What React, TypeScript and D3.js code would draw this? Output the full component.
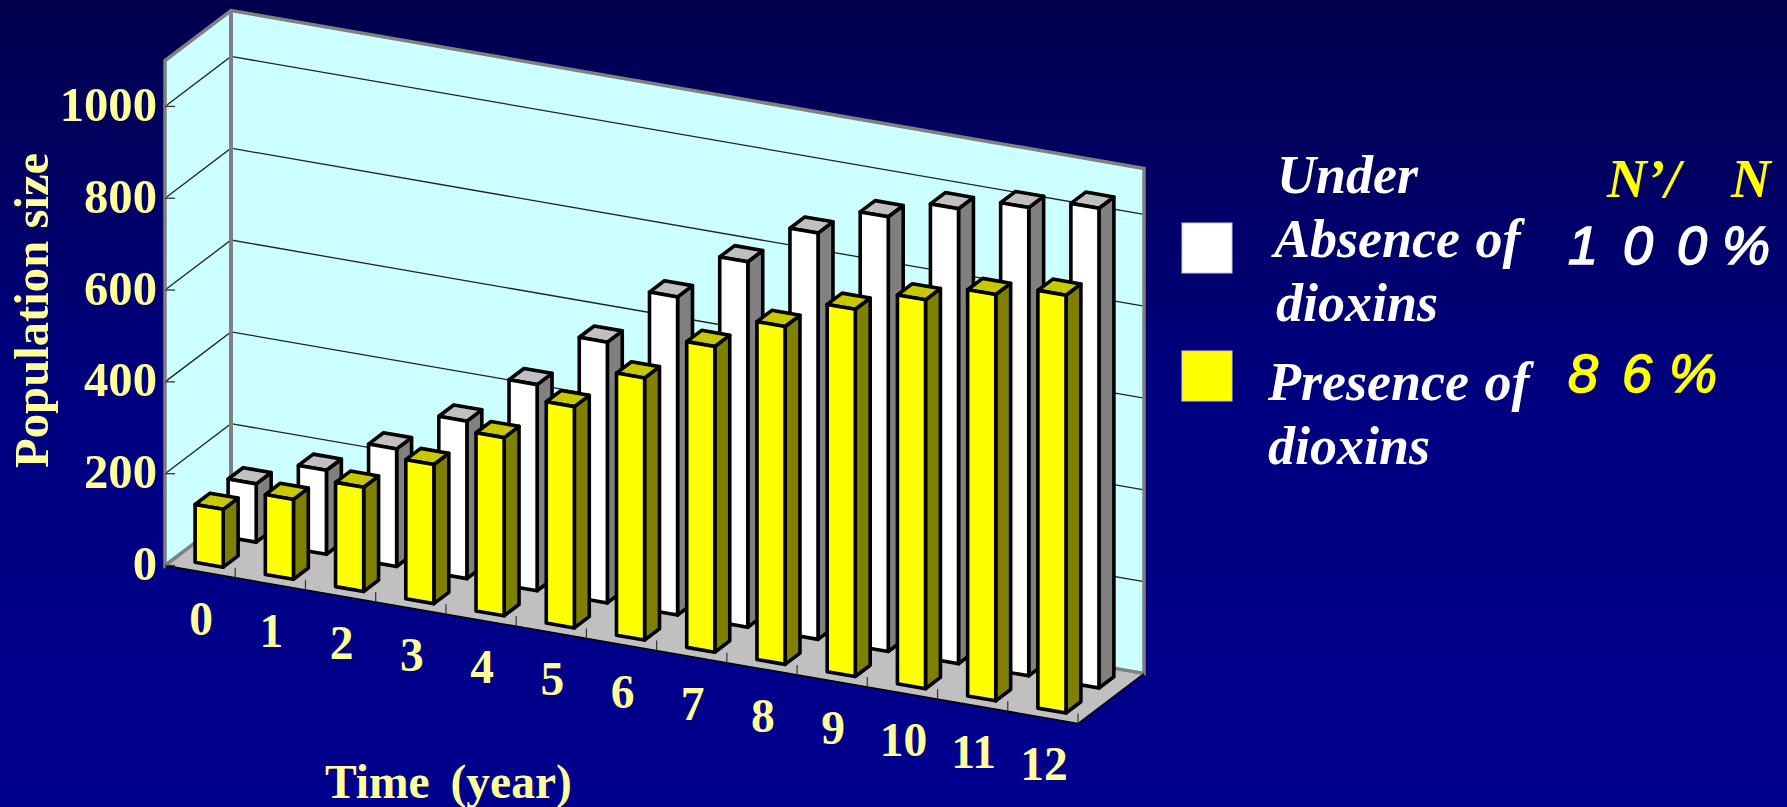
import React from "react";
import * as d3 from "d3";

const years = ["0", "1", "2", "3", "4", "5", "6", "7", "8", "9", "10", "11", "12"];
const absenceValues = [127, 183, 256, 343, 449, 568, 693, 796, 885, 947, 991, 1020, 1045];
const presenceValues = [126, 174, 227, 303, 388, 482, 571, 666, 736, 800, 847, 885, 910];
const valueTicks = [0, 200, 400, 600, 800, 1000];
const depthRows = ["presence", "absence"];

const WIDTH = 1787;
const HEIGHT = 807;
const SERIF = "'Liberation Serif', 'Times New Roman', serif";
const SANS = "'Liberation Sans', Arial, sans-serif";
const LABEL = "#ffff99";

// Oblique projection of the plot box: floor origin plus one vector per axis.
const origin = { x: 165, y: 565.5 };
const alongX = { x: 913, y: 158 };
const alongDepth = { x: 66, y: -50 };

const timeScale = d3.scaleBand<string>().domain(years).range([0, 1]).paddingInner(0.6).paddingOuter(0.3);
const depthScale = d3.scaleBand<string>().domain(depthRows).range([0, 1]).paddingInner(0.548).paddingOuter(0.274);
const valueScale = d3.scaleLinear().domain([0, 1100]).range([0, 505]);

type Pt = [number, number];
const project = (t: number, d: number, v: number): Pt => [
  origin.x + alongX.x * t + alongDepth.x * d,
  origin.y + alongX.y * t + alongDepth.y * d - valueScale(v),
];
const poly = d3.line<Pt>().curve(d3.curveLinearClosed);
const seg = d3.line<Pt>();

function Bar({ year, row, value, front, side, top }: { year: string; row: string; value: number; front: string; side: string; top: string }) {
  const t0 = timeScale(year)!;
  const t1 = t0 + timeScale.bandwidth();
  const d0 = depthScale(row)!;
  const d1 = d0 + depthScale.bandwidth();
  const common = { stroke: "#000", strokeWidth: 3.6, strokeLinejoin: "round" as const };
  return (
    <g>
      <path d={poly([project(t1, d0, 0), project(t1, d1, 0), project(t1, d1, value), project(t1, d0, value)])!} fill={side} {...common} />
      <path d={poly([project(t0, d0, value), project(t1, d0, value), project(t1, d1, value), project(t0, d1, value)])!} fill={top} {...common} />
      <path d={poly([project(t0, d0, 0), project(t1, d0, 0), project(t1, d0, value), project(t0, d0, value)])!} fill={front} {...common} />
    </g>
  );
}

export default function App() {
  const vMax = valueScale.domain()[1];
  const step = timeScale.step();
  const gridTicks = valueTicks.filter((v) => v > 0);
  const wallStroke = { stroke: "#808080", strokeWidth: 3.5, fill: "none", strokeLinejoin: "miter" as const };
  const legendText = { fontFamily: SERIF, fontSize: 54, fontWeight: 700, fontStyle: "italic", fill: "#fff", wordSpacing: 2 };
  const percent = { fontFamily: SANS, fontSize: 54, fontStyle: "italic", strokeWidth: 1.6 };

  return (
    <svg width={WIDTH} height={HEIGHT} viewBox={`0 0 ${WIDTH} ${HEIGHT}`} style={{ position: "fixed", left: 0, top: 0, display: "block" }}>
      <defs>
        <linearGradient id="backdrop" x1="0" y1="0" x2="0" y2="1">
          <stop offset="0" stopColor="#00004d" />
          <stop offset="0.5" stopColor="#000080" />
          <stop offset="1" stopColor="#00008f" />
        </linearGradient>
      </defs>
      <rect width={WIDTH} height={HEIGHT} fill="url(#backdrop)" />

      {/* Floor, side wall and back wall */}
      <path d={poly([project(0, 0, 0), project(1, 0, 0), project(1, 1, 0), project(0, 1, 0)])!} fill="#c0c0c0" />
      <path d={poly([project(0, 0, 0), project(0, 1, 0), project(0, 1, vMax), project(0, 0, vMax)])!} fill="#ccffff" />
      <path d={poly([project(0, 1, 0), project(1, 1, 0), project(1, 1, vMax), project(0, 1, vMax)])!} fill="#ccffff" />

      {gridTicks.map((v) => (
        <path key={v} d={seg([project(0, 0, v), project(0, 1, v), project(1, 1, v)])!} fill="none" stroke="#222" strokeWidth={1.3} />
      ))}

      <path d={poly([project(0, 0, 0), project(0, 1, 0), project(1, 1, 0), project(1, 1, vMax), project(0, 1, vMax), project(0, 0, vMax)])!} {...wallStroke} />
      <path d={seg([project(0, 1, 0), project(0, 1, vMax)])!} {...wallStroke} strokeWidth={4} />

      {/* Floor front edges and tick marks */}
      <path d={seg([project(0, 0, 0), project(1, 0, 0), project(1, 1, 0)])!} fill="none" stroke="#000" strokeWidth={1.5} />
      {years.map((y) => {
        const [x, yy] = project(timeScale(y)! + timeScale.bandwidth() + 0.3 * step, 0, 0);
        return <line key={y} x1={x} x2={x} y1={yy} y2={yy - 10} stroke="#333" strokeWidth={1.2} />;
      })}
      {valueTicks.map((v) => {
        const [x, y] = project(0, 0, v);
        return <line key={v} x1={x} x2={x + 10} y1={y} y2={y} stroke="#333" strokeWidth={1.3} />;
      })}

      {/* Rear row of bars, then the front row */}
      {years.map((y, i) => (
        <Bar key={y} year={y} row="absence" value={absenceValues[i]} front="#ffffff" side="#808080" top="#c0c0c0" />
      ))}
      {years.map((y, i) => (
        <Bar key={y} year={y} row="presence" value={presenceValues[i]} front="#ffff00" side="#808000" top="#c8c800" />
      ))}

      {/* Axis labels */}
      <g fontFamily={SERIF} fontSize={47.5} fontWeight={700} fill={LABEL}>
        <g fontSize={48.7}>
          {valueTicks.map((v) => (
            <text key={v} x={157} y={project(0, 0, v)[1] + 14.5} textAnchor="end">{v}</text>
          ))}
          <text transform="translate(48,468) rotate(-90)">Population size</text>
        </g>
        {years.map((y) => {
          const [x, yy] = project(timeScale(y)! + timeScale.bandwidth() / 2, 0, 0);
          return <text key={y} x={x + 1} y={yy + 63} textAnchor="middle">{y}</text>;
        })}
        <text x={325} y={798} wordSpacing={9}>Time (year)</text>
      </g>

      {/* Legend */}
      <rect x={1182} y={223} width={50} height={50} fill="#ffffff" stroke="#c8c8e0" />
      <rect x={1182} y={351} width={50} height={50} fill="#ffff00" stroke="#c8c8e0" />
      <g {...legendText}>
        <text x={1277} y={193}>Under</text>
        <text x={1274} y={257}>Absence of</text>
        <text x={1276} y={321}>dioxins</text>
        <text x={1268} y={400}>Presence of</text>
        <text x={1268} y={464}>dioxins</text>
      </g>
      <g fontFamily={SERIF} fontSize={55} fontWeight={700} fontStyle="italic" fill="#ffff00">
        <text x={1607} y={197}>N’/</text>
        <text x={1731} y={197}>N</text>
      </g>
      <text x="1568 1623 1677 1722" y={264} fill="#fff" stroke="#fff" {...percent}>100%</text>
      <text x="1568 1622 1669" y={392} fill="#ffff00" stroke="#ffff00" {...percent}>86%</text>
    </svg>
  );
}
